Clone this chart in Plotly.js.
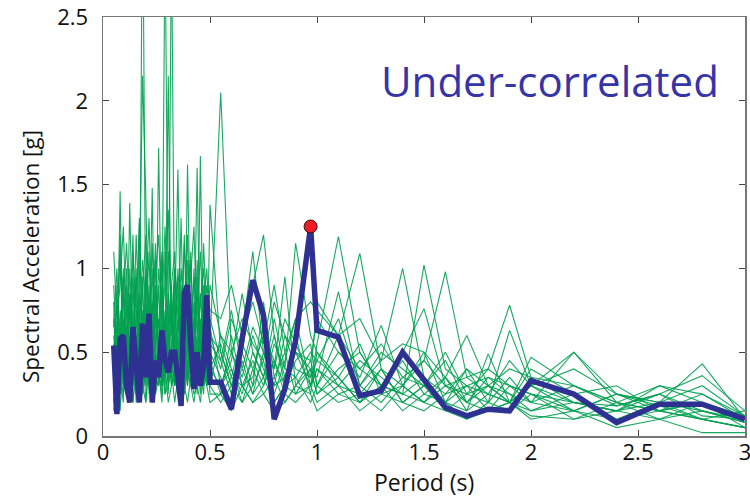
<!DOCTYPE html>
<html>
<head>
<meta charset="utf-8">
<script src="https://cdn.plot.ly/plotly-3.0.1.min.js"></script>
<style>html,body{margin:0;padding:0;background:#fff;}#chart{width:750px;height:499px;}</style>
</head>
<body>
<div id="chart"></div>
<script>
var periods = [0.05,0.065,0.08,0.095,0.11,0.125,0.14,0.155,0.17,0.185,0.2,0.215,0.23,0.245,0.26,0.275,0.29,0.305,0.32,0.335,0.35,0.365,0.38,0.395,0.41,0.425,0.44,0.455,0.47,0.485,0.5,
  0.55,0.6,0.65,0.7,0.75,0.8,0.85,0.9,0.97,1.0,1.1,1.2,1.3,1.4,1.5,1.6,1.7,1.8,1.9,2.0,2.2,2.4,2.6,2.8,3.0];

var g1 = [0.45,0.9,0.3,0.7,0.25,0.85,0.4,1.0,0.35,3.4,0.5,0.9,0.3,0.75,0.45,1.05,0.3,0.6,0.4,0.95,0.25,0.7,0.5,0.3,0.85,0.4,0.6,0.3,0.9,0.45,0.55,
  2.05,0.5,0.3,0.45,0.3,0.55,0.4,0.35,0.5,0.45,0.35,0.2,0.4,0.2,0.3,0.15,0.25,0.2,0.35,0.2,0.15,0.1,0.2,0.15,0.08];
var g2 = [0.3,0.6,1.1,0.4,0.8,0.2,0.65,0.35,0.9,2.15,1.43,0.5,1.0,0.3,0.7,0.45,1.1,0.25,0.8,0.5,0.35,0.9,0.6,1.05,0.4,0.7,0.25,0.5,0.8,0.35,0.6,
  0.4,0.7,0.5,0.9,1.2,0.6,0.35,0.5,0.3,0.55,1.19,0.5,0.3,0.45,0.25,0.35,0.2,0.15,0.3,0.25,0.2,0.15,0.1,0.2,0.12];
var g3 = [0.8,0.2,0.5,0.95,0.35,0.6,1.2,0.3,1.27,0.5,0.85,0.25,0.6,1.15,0.35,0.5,3.0,0.7,0.35,0.6,0.95,0.4,0.25,0.6,0.45,1.0,0.35,0.7,0.3,0.5,0.65,
  0.3,0.45,0.85,0.5,0.35,0.7,0.4,1.15,0.6,0.5,0.35,0.55,0.25,0.3,0.5,0.2,0.4,0.3,0.2,0.15,0.25,0.1,0.15,0.2,0.05];
var g4 = [0.15,0.55,0.35,0.2,0.9,0.45,0.3,0.75,0.5,0.25,0.6,1.1,0.4,0.85,0.3,0.65,0.5,2.15,0.45,0.3,0.7,0.5,1.2,0.35,0.6,0.3,0.95,0.45,0.35,0.8,0.4,
  0.55,0.35,0.6,1.1,0.5,0.3,0.6,0.4,0.35,0.8,0.6,1.09,0.4,0.2,0.3,0.45,0.2,0.3,0.25,0.15,0.2,0.18,0.25,0.12,0.1];
var g5 = [0.6,0.35,0.75,0.5,0.25,1.0,0.55,0.3,0.7,0.4,0.3,0.65,0.2,0.5,0.9,0.3,0.75,0.4,3.0,0.55,0.3,0.8,0.4,0.55,1.1,0.35,0.5,0.25,0.6,0.35,0.45,
  0.25,0.6,0.3,0.35,0.65,0.4,0.95,0.3,0.45,0.3,0.5,0.35,0.66,0.3,0.2,0.35,0.15,0.49,0.2,0.3,0.15,0.25,0.18,0.1,0.15];
var g6 = [0.25,0.7,0.15,0.45,0.6,0.3,0.9,0.5,0.2,0.75,0.35,0.45,0.8,0.3,1.72,0.5,0.35,0.6,0.9,0.3,0.55,1.3,0.35,0.7,0.4,0.6,0.3,0.85,0.5,0.3,0.7,
  0.45,0.25,0.5,0.3,0.8,0.35,0.5,0.25,0.4,0.35,0.86,0.3,0.45,1.0,0.35,0.25,0.4,0.2,0.63,0.3,0.2,0.15,0.3,0.2,0.1];
var g7 = [0.5,0.3,1.46,0.25,0.55,0.75,0.3,0.6,0.45,0.95,0.3,0.6,0.35,0.7,0.5,0.3,0.6,0.45,0.75,0.4,0.6,0.35,0.9,0.5,0.3,0.55,0.7,0.4,0.25,0.6,0.35,
  0.3,0.5,0.35,0.6,0.4,0.25,0.45,0.7,0.3,0.4,0.3,0.45,0.35,0.25,1.02,0.4,0.3,0.25,0.2,0.47,0.3,0.2,0.15,0.25,0.12];
var g8 = [0.35,0.45,0.6,0.85,0.3,1.39,0.45,0.7,0.3,0.55,0.8,0.35,0.6,0.25,0.45,0.75,0.35,0.5,0.3,0.8,0.45,0.6,0.3,0.45,0.65,0.3,0.5,0.6,0.35,0.55,0.3,
  0.6,0.4,0.25,0.5,0.35,0.6,0.3,0.45,0.55,0.3,0.6,0.4,0.3,0.5,0.76,0.3,0.2,0.35,0.3,0.2,0.5,0.25,0.15,0.1,0.05];
var g9 = [0.7,0.4,0.25,0.6,0.45,0.3,0.75,0.25,0.6,0.4,0.7,0.3,0.5,0.9,0.4,0.25,0.65,0.35,0.55,0.7,1.59,0.4,0.6,0.3,0.5,0.8,0.4,0.3,0.7,0.45,0.5,
  0.35,0.2,0.45,0.25,0.5,0.3,0.35,0.6,0.25,0.5,0.3,0.25,0.4,0.3,0.45,0.98,0.35,0.4,0.3,0.25,0.15,0.25,0.2,0.43,0.1];
var g10 = [0.2,0.5,0.4,0.3,0.65,0.5,0.2,0.4,0.75,0.3,0.5,0.6,0.25,0.4,0.55,0.3,0.45,0.7,0.3,0.4,0.5,0.6,0.3,1.62,0.5,0.35,0.45,0.3,0.55,0.4,0.3,
  0.2,0.3,0.2,0.4,0.25,0.35,0.2,0.3,0.4,0.25,0.35,0.2,0.3,0.25,0.2,0.3,0.25,0.4,0.78,0.35,0.2,0.15,0.25,0.36,0.15];
var g11 = [0.4,0.25,0.55,0.35,0.5,0.4,0.6,0.2,0.45,0.35,0.55,0.4,0.3,0.5,0.35,0.6,0.25,0.4,0.5,0.3,0.45,0.35,0.5,0.4,0.3,0.5,1.6,0.35,0.45,0.3,0.4,
  0.3,0.4,0.2,0.3,0.45,0.2,0.3,0.25,0.3,0.4,0.25,0.3,0.2,0.35,0.3,0.2,0.15,0.25,0.2,0.3,0.5,0.2,0.1,0.15,0.08];
var g12 = [0.55,0.3,0.4,0.6,0.25,0.35,0.5,0.4,0.3,0.6,0.2,0.45,0.55,0.3,0.4,0.2,0.5,0.3,0.45,0.6,0.35,0.25,0.45,0.35,0.55,0.4,0.3,1.67,0.4,0.5,0.25,
  0.25,0.35,0.3,0.2,0.3,0.45,0.25,0.2,0.3,0.2,0.3,0.15,0.25,0.2,0.15,0.25,0.3,0.15,0.2,0.1,0.15,0.05,0.1,0.02,0.02];
var g13 = [0.3,0.15,0.35,0.25,0.4,0.3,0.2,0.45,0.35,0.25,0.4,0.3,0.2,0.35,0.3,0.45,0.25,0.3,0.4,0.2,0.35,0.3,0.25,0.4,0.3,0.2,0.35,0.45,0.3,0.35,1.38,
  0.5,0.3,0.4,0.25,0.35,0.2,0.3,0.35,0.2,0.3,0.2,0.25,0.15,0.3,0.2,0.15,0.1,0.2,0.15,0.25,0.1,0.15,0.2,0.1,0.05];
var g14 = [0.2,0.35,0.25,0.45,0.3,0.2,0.4,0.25,0.35,0.3,0.2,0.45,1.48,0.25,0.35,0.3,0.4,0.2,0.3,0.35,0.25,0.4,0.3,0.2,0.35,0.25,0.3,0.2,0.4,0.3,0.2,
  0.25,0.15,0.3,0.2,0.25,0.15,0.2,0.3,0.25,0.15,0.25,0.2,0.3,0.15,0.25,0.2,0.1,0.15,0.2,0.12,0.1,0.2,0.15,0.1,0.05];
var g15 = [0.9,0.5,1.2,0.6,1.0,0.45,1.1,0.7,1.3,0.5,0.95,0.6,1.15,0.5,1.0,0.75,1.25,0.55,0.9,1.1,0.6,1.0,0.7,1.2,0.55,0.95,0.7,1.1,0.6,0.9,0.75,
  0.7,0.9,0.6,0.8,0.55,0.9,0.5,0.7,0.8,0.75,0.6,0.7,0.45,0.55,0.5,0.35,0.6,0.3,0.4,0.35,0.3,0.2,0.3,0.25,0.1];
var g16 = [1.1,0.7,0.9,1.25,0.6,0.85,0.5,1.2,0.65,1.05,0.8,1.3,0.6,0.95,1.2,0.7,0.9,1.35,0.65,1.0,0.8,0.6,1.15,0.75,0.95,1.25,0.6,0.8,1.0,0.65,0.9,
  0.6,0.5,0.7,0.55,0.45,0.8,0.6,0.5,0.45,0.7,0.5,0.4,0.55,0.35,0.45,0.3,0.35,0.25,0.45,0.3,0.4,0.25,0.2,0.3,0.12];
var g17 = [0.65,1.0,0.45,0.8,1.15,0.7,0.55,0.95,0.4,0.85,1.2,0.55,0.75,1.05,0.5,0.9,0.6,1.1,0.8,0.45,1.0,0.7,0.5,0.9,1.05,0.6,0.85,0.5,1.15,0.7,0.55,
  0.45,0.75,0.4,0.65,0.5,0.4,0.7,0.55,0.35,0.45,0.7,0.3,0.5,0.4,0.3,0.5,0.25,0.3,0.2,0.4,0.25,0.3,0.15,0.2,0.08];
var g18 = [0.4,0.8,0.6,1.0,0.35,0.75,0.95,0.45,0.85,0.6,1.0,0.7,0.4,0.8,0.65,1.1,0.45,0.85,0.6,0.95,0.7,0.5,0.75,0.6,0.85,0.45,1.05,0.6,0.8,1.0,0.6,
  0.5,0.3,0.55,0.4,0.6,0.45,0.3,0.5,0.4,0.25,0.4,0.5,0.3,0.25,0.35,0.2,0.3,0.35,0.25,0.2,0.3,0.18,0.25,0.15,0.1];

var selected = [0.54,0.13,0.58,0.6,0.3,0.2,0.65,0.4,0.2,0.67,0.35,0.73,0.2,0.45,0.35,0.63,0.45,0.38,0.5,0.5,0.35,0.18,0.85,0.9,0.55,0.28,0.5,0.3,0.42,0.84,0.32,
  0.32,0.16,0.58,0.93,0.72,0.1,0.28,0.57,1.25,0.63,0.59,0.24,0.27,0.5,0.33,0.17,0.12,0.16,0.15,0.33,0.25,0.08,0.19,0.19,0.1];

var peakPeriod = [0.97];
var peakSa = [1.25];

var xTicks = [0, 0.5, 1, 1.5, 2, 2.5, 3];
var xTickText = ['0', '0.5', '1', '1.5', '2', '2.5', '3'];
var yTicks = [0, 0.5, 1, 1.5, 2, 2.5];
var yTickText = ['0', '0.5', '1', '1.5', '2', '2.5'];

var greens = [g1,g2,g3,g4,g5,g6,g7,g8,g9,g10,g11,g12,g13,g14,g15,g16,g17,g18];
var traces = [];
greens.forEach(function (g) {
  traces.push({x: periods, y: g, type: 'scatter', mode: 'lines',
    line: {color: 'rgba(0,160,80,0.9)', width: 1.1}, hoverinfo: 'skip', showlegend: false});
});
traces.push({x: periods, y: selected, type: 'scatter', mode: 'lines',
  line: {color: '#2e3192', width: 5.5}, showlegend: false});
traces.push({x: peakPeriod, y: peakSa, type: 'scatter', mode: 'markers',
  marker: {color: '#ee1c24', size: 13, line: {color: '#3a1010', width: 1}}, showlegend: false, cliponaxis: false});

var fam = 'Open Sans, sans-serif';
var axFont = {family: fam, size: 22, color: '#111'};
var layout = {
  width: 750, height: 499,
  margin: {l: 103, r: 5, t: 17, b: 63},
  paper_bgcolor: '#fff', plot_bgcolor: '#fff',
  showlegend: false,
  xaxis: {range: [0, 3], tickvals: xTicks, ticktext: xTickText, ticks: 'inside', ticklen: 6,
    tickcolor: '#444', showline: true, linecolor: '#777', linewidth: 1.5, mirror: 'ticks',
    showgrid: false, zeroline: false, tickfont: axFont, ticklabeloverflow: 'allow', automargin: false,
    ticklabelstandoff: -4},
  yaxis: {range: [0, 2.5], tickvals: yTicks, ticktext: yTickText, ticks: 'inside', ticklen: 6,
    tickcolor: '#444', showline: true, linecolor: '#777', linewidth: 1.5, mirror: 'ticks',
    showgrid: false, zeroline: false, tickfont: axFont, ticklabeloverflow: 'allow', automargin: false,
    ticklabelstandoff: 9},
  annotations: [
    {x: 2.09, y: 2.12, xref: 'x', yref: 'y', text: 'Under-correlated', showarrow: false,
     xanchor: 'center', yanchor: 'middle',
     font: {family: fam, size: 42, color: '#3535a8'}},
    {x: 0, y: 0, xref: 'paper', yref: 'paper', text: 'Period (s)', showarrow: false, borderpad: 0,
     xanchor: 'center', yanchor: 'middle', font: {family: fam, size: 23, color: '#111'}},
    {x: 0, y: 0, xref: 'paper', yref: 'paper', text: 'Spectral Acceleration [g]', showarrow: false, textangle: -90,
     xanchor: 'center', yanchor: 'middle', font: {family: fam, size: 22.5, color: '#111'}}
  ]
};
// place the two axis-title annotations by pixel position
var pw = 750 - 103 - 5, ph = 499 - 17 - 63;
layout.annotations[1].x = (424 - 103) / pw;
layout.annotations[1].y = (436 - 482) / ph;
layout.annotations[2].x = (30 - 103) / pw;
layout.annotations[2].y = (436 - 257) / ph;
Plotly.newPlot('chart', traces, layout, {displayModeBar: false, staticPlot: true});
</script>
</body>
</html>
